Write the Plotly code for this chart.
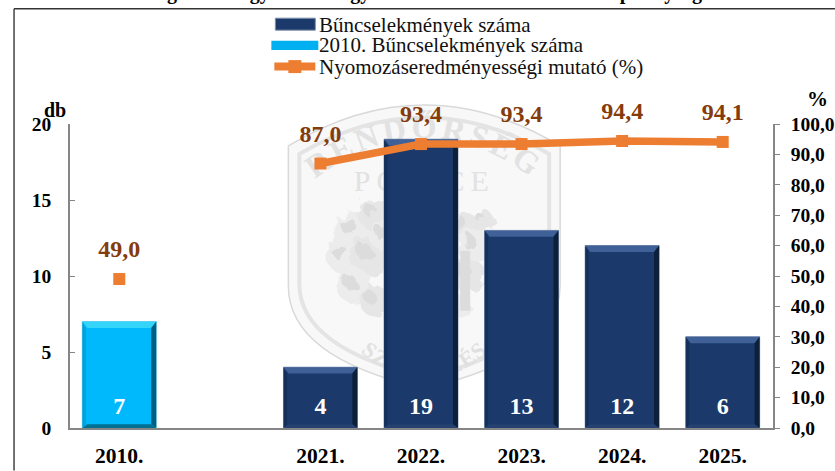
import base64
import plotly.graph_objects as go

# ---- data ----
categories = ["2010.", "", "2021.", "2022.", "2023.", "2024.", "2025."]
crimes_2010 = [7, None, None, None, None, None, None]
crimes = [None, None, 4, 19, 13, 12, 6]
rate = [49.0, None, 87.0, 93.4, 93.4, 94.4, 94.1]
y_ticks = [0, 5, 10, 15, 20]
y2_ticks = [0, 10, 20, 30, 40, 50, 60, 70, 80, 90, 100]
legend_names = ["Bűncselekmények száma", "2010. Bűncselekmények száma",
                "Nyomozáseredményességi mutató (%)"]

W, H = 835, 471
L, R, T, B = 69.5, 773, 124, 428.5
FONT = "Liberation Serif"
NAVY = "#1b3a6b"
CYAN = "#00b9fd"
ORANGE = "#ed7d31"
BROWN = "#843c0c"
GREY = "#868686"


def px(x):
    return (x - L) / (R - L)


def py(y):
    return (B - y) / (B - T)


# ---- watermark seal (decoration only) ----
blobs = [(70, 135, 20), (90, 118, 16), (60, 160, 18), (85, 160, 20), (70, 190, 18), (90, 205, 15),
         (100, 140, 15), (180, 130, 14), (190, 150, 17), (185, 180, 17), (175, 210, 12), (200, 125, 10)]
blob_svg = "".join(
    f'<circle cx="{x}" cy="{y}" r="{r}" fill="{"#e6e6e6" if i % 2 else "#ececec"}"/>'
    f'<circle cx="{x-5}" cy="{y-4}" r="{r*0.4:.0f}" fill="#dcdcdc"/>'
    for i, (x, y, r) in enumerate(blobs))
svg = f'''<svg xmlns="http://www.w3.org/2000/svg" width="280" height="300" viewBox="0 0 280 300">
<defs><filter id="b" x="-20%" y="-20%" width="140%" height="140%"><feTurbulence type="fractalNoise" baseFrequency="0.09" numOctaves="2" seed="4"/>
<feDisplacementMap in="SourceGraphic" scale="14"/><feGaussianBlur stdDeviation="0.7"/></filter>
<path id="top" d="M 22,90 Q 140,-6 258,90"/>
<path id="bot" d="M 78,258 Q 140,310 202,258"/></defs>
<path d="M 4,50 Q 140,-32 276,50 L 276,190 Q 276,262 140,293 Q 4,262 4,190 Z" fill="#f8f8f8" stroke="#d9d9d9" stroke-width="1.5"/>
<path d="M 15,58 Q 140,-15 265,58 L 265,188 Q 265,252 140,282 Q 15,252 15,188 Z" fill="none" stroke="#e4e4e4" stroke-width="4"/>
<text font-family="Liberation Serif" font-weight="bold" font-size="32" fill="#e2e2e2" letter-spacing="4"><textPath href="#top" startOffset="50%" text-anchor="middle">RENDŐRSÉG</textPath></text>
<text x="140" y="95" text-anchor="middle" font-family="Liberation Serif" font-size="30" fill="#e2e2e2" letter-spacing="6">POLICE</text>
<g filter="url(#b)">{blob_svg}</g><rect x="176" y="155" width="10" height="60" fill="#dcdcdc"/>
<text font-family="Liberation Serif" font-weight="bold" font-size="22" fill="#e0e0e0" letter-spacing="1"><textPath href="#bot" startOffset="50%" text-anchor="middle">SZOLGÁLÉS</textPath></text>
</svg>'''
svg_uri = "data:image/svg+xml;base64," + base64.b64encode(svg.encode("utf-8")).decode()

fig = go.Figure()
positions = list(range(len(categories)))
BAR_W = 0.735
bar_font = dict(family=FONT, size=24, color="white", weight="bold")

# ---- bars ----
fig.add_trace(go.Bar(x=positions, y=crimes, name=legend_names[0], width=BAR_W, marker_color=NAVY,
                     marker_line=dict(color="#8c9db8", width=1), showlegend=False))
fig.add_trace(go.Bar(x=positions, y=crimes_2010, name=legend_names[1], width=BAR_W, marker_color=CYAN,
                     marker_line=dict(color="#7fd0ee", width=1), showlegend=False))


# ---- bevel faces on each bar, derived from its value ----
def bevel(series, top, right, left, bottom):
    bx, by = 0.05, 0.42
    for i, v in zip(positions, series):
        if v is None:
            continue
        x0, x1 = i - BAR_W / 2, i + BAR_W / 2
        faces = [([x0, x1, x1 - bx, x0 + bx], [v, v, v - by, v - by], top),
                 ([x1, x1, x1 - bx, x1 - bx], [v, 0, by * .6, v - by], right),
                 ([x0, x0, x0 + bx * .7, x0 + bx * .7], [v, 0, by * .6, v - by], left),
                 ([x0, x1, x1 - bx, x0 + bx], [0, 0, by * .6, by * .6], bottom)]
        for fx, fy, c in faces:
            fig.add_trace(go.Scatter(x=fx + fx[:1], y=fy + fy[:1], mode="lines", fill="toself", fillcolor=c,
                                     line=dict(width=0), showlegend=False, hoverinfo="skip"))


bevel(crimes, "#3f6197", "#0d2039", "#15305a", "#24416f")
bevel(crimes_2010, "#35d5fb", "#005f7e", "#00a2da", "#006f90")

# ---- bar value labels, just above the bar base ----
values = [a if a is not None else b for a, b in zip(crimes_2010, crimes)]
fig.add_trace(go.Scatter(x=positions, y=[None if v is None else 0.55 for v in values], mode="text",
                         text=[None if v is None else str(v) for v in values], textposition="top center",
                         textfont=bar_font, showlegend=False, hoverinfo="skip"))

# ---- line ----
fig.add_trace(go.Scatter(x=positions, y=rate, name=legend_names[2], yaxis="y2", mode="lines+markers",
                         connectgaps=False, line=dict(color=ORANGE, width=7.5), cliponaxis=False,
                         marker=dict(symbol="square", size=12, color=ORANGE), showlegend=False))
fig.add_trace(go.Scatter(x=positions, y=rate, yaxis="y2", mode="markers+text", cliponaxis=False,
                         marker=dict(size=24, opacity=0), showlegend=False, hoverinfo="skip",
                         text=[None if v is None else f"{v:.1f}".replace(".", ",") for v in rate],
                         textposition="top center",
                         textfont=dict(family=FONT, size=24, color=BROWN, weight="bold")))

shapes = [
    # page frame
    dict(type="line", xref="paper", yref="paper", x0=px(13.5), x1=px(835), y0=py(8.5), y1=py(8.5),
         line=dict(color="#333333", width=1.5)),
    dict(type="line", xref="paper", yref="paper", x0=px(13.5), x1=px(13.5), y0=py(8.5), y1=py(471),
         line=dict(color="#444444", width=1.5)),
    # legend swatches
    dict(type="rect", xref="paper", yref="paper", x0=px(275), x1=px(315), y0=py(18), y1=py(30),
         fillcolor=NAVY, line=dict(color="#7f90aa", width=1)),
    dict(type="rect", xref="paper", yref="paper", x0=px(271), x1=px(318), y0=py(40.5), y1=py(50),
         fillcolor="#00b0f0", line=dict(width=0)),
    dict(type="line", xref="paper", yref="paper", x0=px(274), x1=px(315), y0=py(66.5), y1=py(66.5),
         line=dict(color=ORANGE, width=8)),
    dict(type="rect", xref="paper", yref="paper", x0=px(288), x1=px(301), y0=py(60), y1=py(73),
         fillcolor=ORANGE, line=dict(width=0)),
]

annotations = [
    dict(text=name, xref="paper", yref="paper", x=px(317), y=py(yc), xanchor="left", yanchor="middle",
         showarrow=False, font=dict(family=FONT, size=21, color="#111111"))
    for name, yc in zip(legend_names, [25, 45, 67])
]
annotations += [
    dict(text="<b>db</b>", xref="paper", yref="paper", x=px(54.5), y=py(110), xanchor="center", yanchor="middle",
         showarrow=False, font=dict(family=FONT, size=20, color="black")),
    dict(text="<b>%</b>", xref="paper", yref="paper", x=px(818), y=py(99), xanchor="center", yanchor="middle",
         showarrow=False, font=dict(family=FONT, size=21, color="black")),
    # title, cut off by the top of the page in the reference
    dict(text="<b>Ingatlan Nagyértékű vagyon elleni bűntettek Rendőrkapitányság</b>",
         xref="paper", yref="paper", x=px(425), y=py(6), xanchor="center", yanchor="bottom",
         showarrow=False, font=dict(family=FONT, size=20, color="black")),
]

tick_font = dict(family=FONT, size=19.5, color="black", weight="bold")
fig.update_layout(
    width=W, height=H, autosize=False,
    margin=dict(l=L, r=W - R, t=T, b=H - B, pad=0, autoexpand=False),
    paper_bgcolor="white", plot_bgcolor="white",
    barmode="overlay", separators=", ", showlegend=False,
    shapes=shapes, annotations=annotations,
    images=[dict(source=svg_uri, xref="paper", yref="paper", x=px(284), y=py(96),
                 sizex=280 / (R - L), sizey=300 / (B - T), xanchor="left", yanchor="top",
                 sizing="stretch", layer="below", opacity=1)],
    xaxis=dict(range=[-0.49, 6.5], tickvals=positions, ticktext=categories, ticks="", showgrid=False,
               zeroline=False, showline=True, linecolor=GREY, linewidth=1.5, ticklabelstandoff=7,
               automargin=False,
               tickfont=dict(family=FONT, size=21.5, color="black", weight="bold")),
    yaxis=dict(range=[0, 20], tickvals=y_ticks, ticks="inside", ticklen=5, tickcolor=GREY, showgrid=False,
               zeroline=False, showline=True, linecolor=GREY, linewidth=1.5, ticklabelstandoff=13,
               automargin=False, tickfont=tick_font),
    yaxis2=dict(range=[0, 100], overlaying="y", side="right", tickvals=y2_ticks, tickformat=".1f",
                ticks="outside", ticklen=5, tickcolor=GREY, showgrid=False, zeroline=False, showline=True,
                linecolor=GREY, linewidth=1.5, ticklabelstandoff=7, automargin=False, tickfont=tick_font),
)

fig.write_html("out.html", config={"displayModeBar": False},
               post_script="document.body.style.margin='0';document.body.style.overflow='hidden';")
